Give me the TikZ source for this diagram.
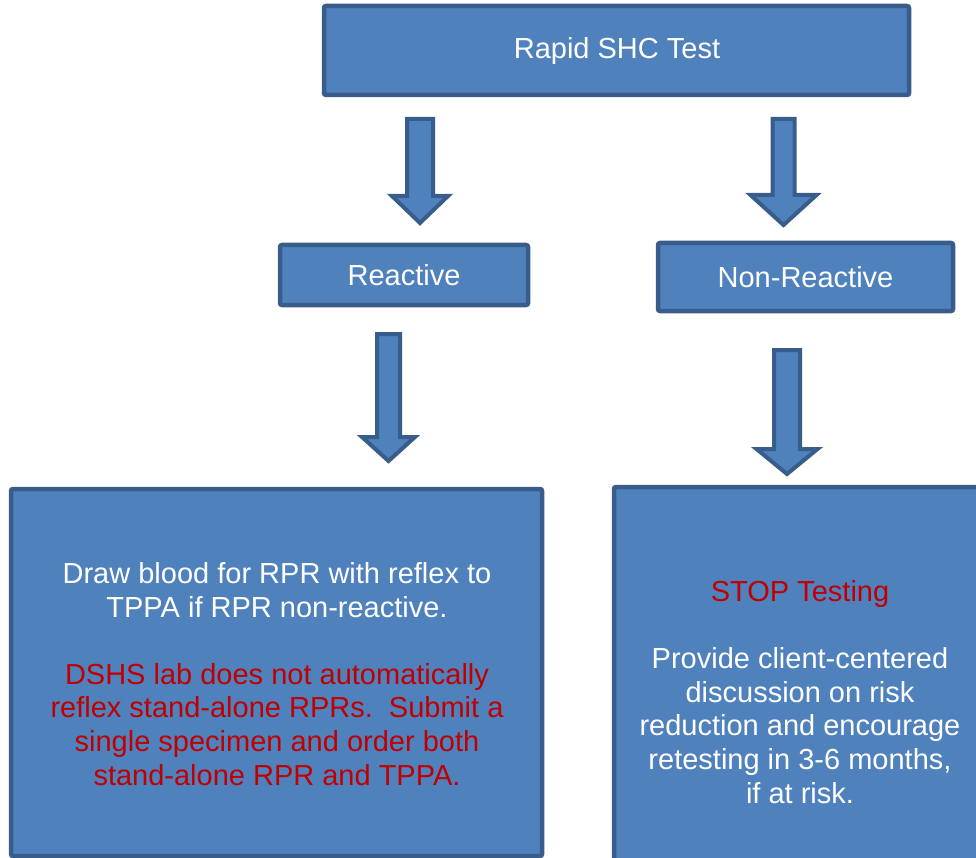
\documentclass[tikz,border=0pt]{standalone}
\usepackage{fontspec}
\setmainfont{Liberation Sans}
\definecolor{boxfill}{HTML}{4F81BD}
\definecolor{boxline}{HTML}{385D8A}
\definecolor{warn}{HTML}{C00000}

% downward block arrow: centre x, shaft half width, head half width, top y, head base y, tip y
\newcommand\downblock[6]{%
  \draw[barrow] (#1-#2,#4) -- (#1+#2,#4) -- (#1+#2,#5) -- (#1+#3,#5)
    -- (#1,#6) -- (#1-#3,#5) -- (#1-#2,#5) -- cycle;}

\begin{document}
\begin{tikzpicture}[x=1pt,y=-1pt,
  box/.style={draw=boxline, fill=boxfill, line width=4.5pt, rounded corners=2pt,
              inner sep=0pt},
  boxtext/.style={text=white, font=\fontsize{29}{33.6}\selectfont, align=center,
                  inner sep=0pt},
  barrow/.style={draw=boxline, fill=boxfill, line width=4pt, line join=miter}]

\useasboundingbox (0,0) rectangle (976,858);
\clip (0,0) rectangle (976,858);

% decision boxes
\node[box, minimum width=585pt, minimum height=89pt] (test) at (616.5,50.5) {};
\node[boxtext] at (617,51) {Rapid SHC Test};
\node[box, boxtext, minimum width=248pt, minimum height=60pt] (reactive) at (404,275) {Reactive};
\node[box, boxtext, minimum width=295pt, minimum height=68pt] (nonreactive) at (805.5,277) {Non-Reactive};

% outcome boxes
\node[box, minimum width=531pt, minimum height=367pt] (left) at (276.5,672.5) {};
\node[box, minimum width=376pt, minimum height=393pt] (right) at (802,683.5) {};

\node[boxtext] (lefttext) at (277,674) {Draw blood for RPR with reflex to\\
  TPPA if RPR non-reactive.\\[33.6pt]
  \textcolor{warn}{DSHS lab does not automatically}\\
  \textcolor{warn}{reflex stand-alone RPRs.\ \ Submit a}\\
  \textcolor{warn}{single specimen and order both}\\
  \textcolor{warn}{stand-alone RPR and TPPA.}};

\node[boxtext] (righttext) at (800,692) {\textcolor{warn}{STOP Testing}\\[33.6pt]
  Provide client-centered\\
  discussion on risk\\
  reduction and encourage\\
  retesting in 3-6 months,\\
  if at risk.};

% block arrows between the boxes
\downblock{420}{13}{28}{119}{196}{223}
\downblock{783.5}{11}{33}{119}{195}{225}
\downblock{388.5}{11.5}{26.5}{334}{437}{461}
\downblock{787}{13}{30.5}{350}{449}{474}
\end{tikzpicture}
\end{document}
